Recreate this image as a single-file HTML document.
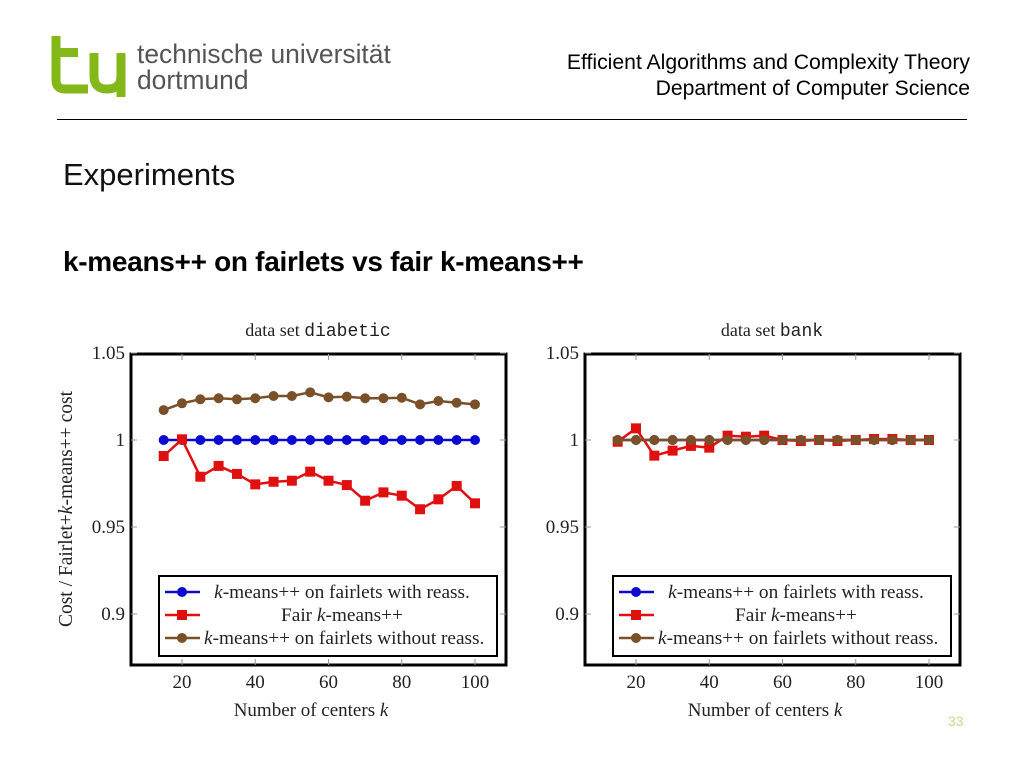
<!DOCTYPE html>
<html><head><meta charset="utf-8">
<style>
body{margin:0;width:1024px;height:768px;background:#fff;overflow:hidden;position:relative;font-family:"Liberation Sans",sans-serif}
.abs{position:absolute;white-space:nowrap}
</style></head>
<body>
<svg class="abs" style="left:0;top:0" width="130" height="100">
<path d="M56,36 V80 Q56,89 65,89 H88" stroke="#84b819" stroke-width="9" fill="none"/>
<path d="M52,52.5 H78" stroke="#84b819" stroke-width="9" fill="none"/>
<path d="M94,53 V76 Q94,89 107,89 Q121,89 121,76 V53" stroke="#84b819" stroke-width="9" fill="none"/>
<path d="M121,60 V97" stroke="#84b819" stroke-width="9" fill="none"/>
</svg>
<div class="abs" style="left:137px;top:41px;font-size:26.4px;line-height:26px;color:#555">technische universität<br>dortmund</div>
<div class="abs" style="right:54px;top:50px;font-size:21.2px;color:#000;text-align:right;line-height:26px">Efficient Algorithms and Complexity Theory<br>Department of Computer Science</div>
<div class="abs" style="left:57px;top:119px;width:910px;height:1px;background:#000"></div>
<div class="abs" style="left:63px;top:157px;font-size:31px;color:#111">Experiments</div>
<div class="abs" style="left:63px;top:246px;font-size:28px;font-weight:bold;color:#000;letter-spacing:-0.3px">k-means++ on fairlets vs fair k-means++</div>
<div class="abs" style="left:948px;top:713px;font-size:14px;color:#c8d890">33</div>
<svg id="charts" class="abs" style="left:0;top:0" width="1024" height="768" font-family="'Liberation Serif',serif"></svg>
<script>
const ks=[15,20,25,30,35,40,45,50,55,60,65,70,75,80,85,90,95,100];
const yTicks=[1.05,1,0.95,0.9];
const yTickLabels=["1.05","1","0.95","0.9"];
const xTicks=[20,40,60,80,100];
const seriesNames=["k-means++ on fairlets with reass.","Fair k-means++","k-means++ on fairlets without reass."];
const diabeticReass=[1,1,1,1,1,1,1,1,1,1,1,1,1,1,1,1,1,1];
const diabeticFair=[0.9908,1.0004,0.9789,0.9851,0.9805,0.9745,0.976,0.9766,0.9818,0.9766,0.9741,0.9651,0.9699,0.968,0.9602,0.9659,0.9736,0.9636];
const diabeticNoReass=[1.0172,1.0211,1.0234,1.024,1.0234,1.024,1.0253,1.0253,1.0274,1.0245,1.0249,1.024,1.024,1.0243,1.0205,1.0224,1.0214,1.0205];
const bankReass=[1,1,1,1,1,1,1,1,1,1,1,1,1,1,1,1,1,1];
const bankFair=[0.999,1.0067,0.991,0.9939,0.9966,0.9956,1.0025,1.0019,1.0025,1,0.9994,1,0.9994,1,1.0006,1.0006,1,1];
const bankNoReass=[1,1,1,1,1,1,1,1,1,1,1,1,1,1,1,1,1,1];

const svg=document.getElementById('charts');
const NS='http://www.w3.org/2000/svg';
function mk(tag,attrs,parent){const e=document.createElementNS(NS,tag);for(const k in attrs)e.setAttribute(k,attrs[k]);(parent||svg).appendChild(e);return e;}
const colors=['#0a0ad0','#e01010','#7a5028'];

function chart(x0,name,title,series){
  const g=mk('g',{});
  
  
  const L=x0,R=x0+375,T=354,B=665;
  const xs=v=>L+51+(v-20)*(293/80);
  const ys=v=>440+(1-v)*1740;
  const fr=mk('rect',{x:L,y:T,width:R-L,height:B-T,fill:'#fff',stroke:'#000','stroke-width':3},g);
  
  
  xTicks.forEach(t=>{
    const x=xs(t);
    mk('line',{x1:x,x2:x,y1:T,y2:T+6,stroke:'#999'},g);
    mk('line',{x1:x,x2:x,y1:B,y2:B-6,stroke:'#999'},g);
    const tl=mk('text',{x:x,y:688,'text-anchor':'middle','font-size':19,fill:'#222'},g);
    tl.textContent=t;
    
    
  });
  yTicks.forEach((t,i)=>{
    const y=ys(t);
    mk('line',{x1:L,x2:L+6,y1:y,y2:y,stroke:'#999'},g);
    mk('line',{x1:R,x2:R-6,y1:y,y2:y,stroke:'#999'},g);
    const tl=mk('text',{x:L-6,y:y+6,'text-anchor':'end','font-size':19,fill:'#222'},g);
    tl.textContent=yTickLabels[i];
    
    
  });
  const tt=mk('text',{x:L+187,y:336,'text-anchor':'middle','font-size':18,fill:'#222'},g);
  tt.innerHTML='data set <tspan font-family="\'Liberation Mono\',monospace">'+title+'</tspan>';
  
  
  const xl=mk('text',{x:L+180,y:716,'text-anchor':'middle','font-size':19,fill:'#222'},g);
  xl.innerHTML='Number of centers <tspan font-style="italic">k</tspan>';
  
  
  [0,1,2].forEach(si=>{
    const vals=series[si];
    const pts=ks.map((k,i)=>xs(k)+','+ys(vals[i])).join(' ');
    const pl=mk('polyline',{points:pts,fill:'none',stroke:colors[si],'stroke-width':2.5},g);
    
    
    ks.forEach((k,i)=>{
      let m;
      if(si===1)m=mk('rect',{x:xs(k)-5,y:ys(vals[i])-5,width:10,height:10,fill:colors[si]},g);
      else m=mk('circle',{cx:xs(k),cy:ys(vals[i]),r:5,fill:colors[si]},g);
      
      
    });
  });
  const lg=mk('g',{},g);
  
  
  mk('rect',{x:L+28,y:576,width:338,height:80,fill:'#fff',stroke:'#000','stroke-width':2},lg);
  seriesNames.forEach((n,i)=>{
    const y=592+i*23;
    mk('line',{x1:L+34,x2:L+69,y1:y,y2:y,stroke:colors[i],'stroke-width':2.5},lg);
    if(i===1)mk('rect',{x:L+46,y:y-5,width:10,height:10,fill:colors[i]},lg);
    else mk('circle',{cx:L+51,cy:y,r:5,fill:colors[i]},lg);
    const tx=mk('text',{x:i===2?L+73:L+211,y:y+6,'text-anchor':i===2?'start':'middle','font-size':19.3,fill:'#222'},lg);
    tx.innerHTML=n.replace('k-','<tspan font-style="italic">k</tspan>-');
    
    
  });
}
chart(131,'chart-diabetic','diabetic',[diabeticReass,diabeticFair,diabeticNoReass]);
chart(585,'chart-bank','bank',[bankReass,bankFair,bankNoReass]);
const yl=mk('text',{x:0,y:0,transform:'translate(72,509) rotate(-90)','text-anchor':'middle','font-size':19.5,fill:'#222'});
yl.innerHTML='Cost / Fairlet+<tspan font-style="italic">k</tspan>-means++ cost';


</script>
</body></html>
